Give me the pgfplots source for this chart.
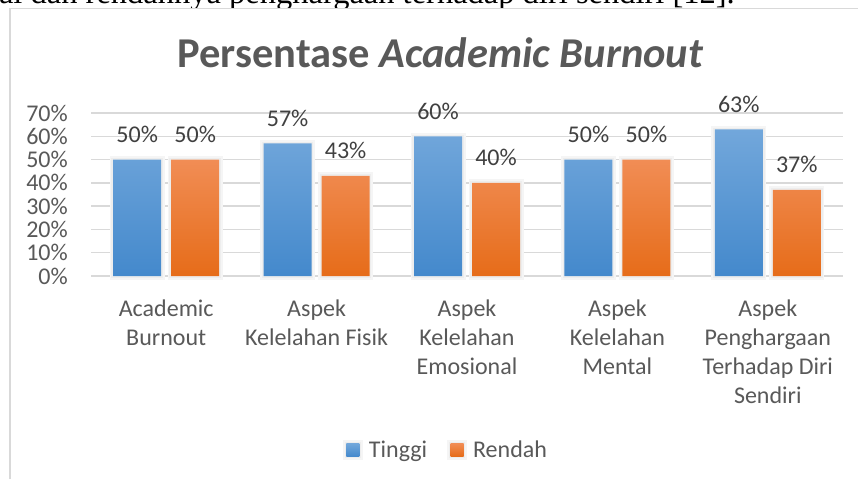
\documentclass[border=0pt]{standalone}
\usepackage{pgfplots}
\pgfplotsset{compat=1.18}
\usepackage{fontspec}
\setmainfont{Carlito}
\newfontfamily\docserif{Liberation Serif}
\definecolor{textgray}{RGB}{89,89,89}
\definecolor{datagray}{RGB}{64,64,64}
\definecolor{gridgray}{RGB}{217,217,217}
\definecolor{blueT}{RGB}{114,167,219}
\definecolor{blueB}{RGB}{68,137,204}
\definecolor{orT}{RGB}{241,141,85}
\definecolor{orB}{RGB}{230,108,25}
\begin{document}
\begin{tikzpicture}[x=1pt,y=1pt]
\fill[white] (0,0) rectangle (858,479);
\path[use as bounding box] (0,0) rectangle (858,479);
% cut-off document text at the top
\begin{scope}
\clip (0,469.5) rectangle (858,479);
\node[anchor=base east, inner sep=0, font=\docserif\fontsize{32.5}{40}\selectfont] at (735,475) {emosional dan rendahnya penghargaan terhadap diri sendiri [12].};
\end{scope}
\fill[white] (10,0) rectangle (858,470.5);
\draw[gridgray, line width=1.3pt] (10,0) -- (10,470.5) -- (858,470.5);
% title
\node[anchor=base, inner sep=0, text=textgray, font=\fontsize{42.5}{50}\selectfont\bfseries] at (440.5,411) {Persentase \textit{Academic Burnout}};
\begin{axis}[
  at={(91pt,203pt)}, anchor=south west,
  scale only axis, width=752pt, height=163pt,
  xmin=-0.5, xmax=4.5, ymin=0, ymax=70,
  clip=false,
  ybar=10pt, bar width=48pt,
  /pgf/number format/assume math mode=true,
  axis line style={draw=none},
  major tick length=0pt,
  ymajorgrids, grid style={gridgray, line width=1.3pt},
  ytick={0,10,20,30,40,50,60,70},
  yticklabels={0\%,10\%,20\%,30\%,40\%,50\%,60\%,70\%},
  yticklabel style={anchor=east, inner sep=0pt, xshift=-23pt, text=textgray, font=\fontsize{24}{29}\selectfont},
  xtick={0,1,2,3,4},
  xticklabels={{\strut Academic\\Burnout},{\strut Aspek\\Kelelahan Fisik},{\strut Aspek\\Kelelahan\\Emosional},{\strut Aspek\\Kelelahan\\Mental},{\strut Aspek\\Penghargaan\\Terhadap Diri\\Sendiri}},
  xticklabel style={anchor=north, align=center, inner sep=0pt, yshift=-20pt, text=textgray, font=\fontsize{24}{29}\selectfont},
  nodes near coords={\pgfmathprintnumber{\pgfplotspointmeta}\%},
  every node near coord/.append style={anchor=base, inner sep=0pt, yshift=17pt, text=datagray, font=\fontsize{24}{29}\selectfont},
  legend columns=2,
  legend style={at={(0.4707,-1.0675)}, anchor=center, draw=none, fill=none, font=\fontsize{24}{29}\selectfont, text=textgray,
    nodes={inner sep=0pt, anchor=west}, /tikz/every odd column/.append style={column sep=6pt}, /tikz/every even column/.append style={column sep=20pt}},
]
\addplot[draw=none, top color=blueT, bottom color=blueB,
  preaction={draw=black!4, line width=7pt}, preaction={draw=black!7, line width=3.5pt},
  legend image code/.code={\shade[top color=blueT, bottom color=blueB] (0pt,-6.5pt) rectangle (13pt,6.5pt);}]
  coordinates {(0,50) (1,57) (2,60) (3,50) (4,63)};
\addlegendentry{Tinggi}
\addplot[draw=none, top color=orT, bottom color=orB,
  preaction={draw=black!4, line width=7pt}, preaction={draw=black!7, line width=3.5pt},
  legend image code/.code={\shade[top color=orT, bottom color=orB] (0pt,-6.5pt) rectangle (13pt,6.5pt);}]
  coordinates {(0,50) (1,43) (2,40) (3,50) (4,37)};
\addlegendentry{Rendah}
\end{axis}
\end{tikzpicture}
\end{document}
